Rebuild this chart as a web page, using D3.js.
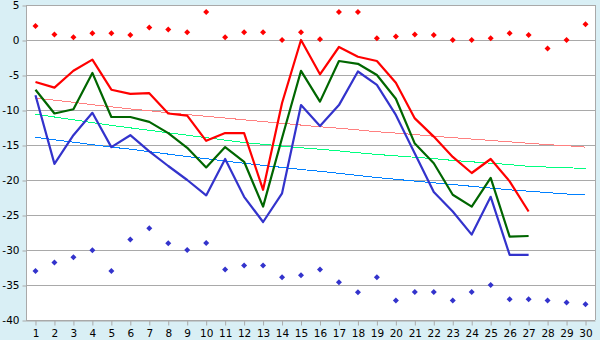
<!DOCTYPE html>
<html>
<head>
<meta charset="utf-8">
<script src="https://cdn.jsdelivr.net/npm/d3@7"></script>
<style>
  html, body { margin: 0; padding: 0; background: #d9eff5; }
  svg { display: block; }
  text { font-family: "DejaVu Sans", sans-serif; font-size: 10px; fill: #000; }
</style>
</head>
<body>
<svg id="chart" width="600" height="340"></svg>
<script>
// Days of the month
const days = d3.range(1, 31);
const yTicks = [5, 0, -5, -10, -15, -20, -25, -30, -35, -40];

// Daily maximum, mean and minimum temperature (days 1..27)
const tMax = [-6, -6.8, -4.4, -2.8, -7.1, -7.7, -7.6, -10.5, -10.8, -14.4, -13.3, -13.3, -21.4, -9,
  0, -4.9, -1, -2.4, -3, -6.1, -11.2, -13.8, -16.7, -19, -17, -20.2, -24.5];
const tMean = [-7.1, -10.5, -9.9, -4.7, -11, -11, -11.7, -13.3, -15.4, -18.2, -15.3, -17.4, -23.8, -14,
  -4.4, -8.8, -3, -3.4, -5, -8.4, -14.8, -17.6, -22.1, -23.8, -19.7, -28.1, -28];
const tMin = [-7.9, -17.7, -13.6, -10.4, -15.3, -13.6, -15.9, -18, -20, -22.2, -17, -22.4, -26, -21.9,
  -9.3, -12.3, -9.3, -4.5, -6.4, -10.7, -16.2, -21.7, -24.5, -27.8, -22.4, -30.7, -30.7];

// Climate normals for each day
const normMax = [-8.3, -8.6, -8.9, -9.25, -9.55, -9.85, -10.1, -10.4, -10.65, -10.9, -11.15, -11.4, -11.65, -11.9, -12.15,
  -12.4, -12.6, -12.85, -13.1, -13.3, -13.5, -13.75, -13.95, -14.15, -14.35, -14.55, -14.75, -14.95, -15.1, -15.3];
const normMean = [-10.6, -11, -11.4, -11.8, -12.2, -12.55, -12.9, -13.25, -13.6, -13.95, -14.3, -14.65, -14.9, -15.15, -15.4,
  -15.6, -15.85, -16.1, -16.35, -16.55, -16.75, -16.95, -17.2, -17.4, -17.6, -17.8, -18.05, -18.15, -18.25, -18.35];
const normMin = [-13.9, -14.25, -14.6, -14.95, -15.3, -15.6, -15.95, -16.3, -16.65, -16.95, -17.3, -17.6, -17.9, -18.2, -18.5,
  -18.75, -19.05, -19.35, -19.65, -19.9, -20.15, -20.4, -20.65, -20.9, -21.15, -21.4, -21.6, -21.8, -22, -22.15];

// Record highs and lows for each day
const recMax = [2, 0.8, 0.4, 0.95, 0.95, 0.7, 1.8, 1.5, 1.1, 4, 0.4, 1.1, 1.1, 0, 1.1,
  0.1, 4, 4, 0.25, 0.5, 0.8, 0.7, 0, 0, 0.25, 0.95, 0.7, -1.2, 0, 2.25];
const recMin = [-33, -31.8, -31.05, -30.05, -33, -28.5, -26.9, -29.05, -30, -29, -32.8, -32.2, -32.2, -33.9, -33.6,
  -32.8, -34.6, -36.05, -33.9, -37.2, -36, -36, -37.2, -36, -35, -37.05, -37.05, -37.2, -37.5, -37.75];

const svg = d3.select("#chart");
const plot = { left: 26, right: 595, top: 5, bottom: 320 };

const x = d3.scalePoint().domain(days).range([plot.left, plot.right]).padding(0.5);
const y = d3.scaleLinear().domain([-40, 5]).range([plot.bottom, plot.top]);

// plot background
svg.append("rect").attr("x", plot.left).attr("y", plot.top)
  .attr("width", plot.right - plot.left).attr("height", plot.bottom - plot.top).attr("fill", "#fff");

// horizontal grid
svg.append("g").selectAll("line").data(yTicks).join("line")
  .attr("x1", plot.left).attr("x2", plot.right)
  .attr("y1", d => y(d) + 0.5).attr("y2", d => y(d) + 0.5)
  .attr("stroke", "#a9a9a9").attr("stroke-width", 1);

// right frame
svg.append("line").attr("x1", plot.right + 0.5).attr("x2", plot.right + 0.5)
  .attr("y1", plot.top).attr("y2", plot.bottom).attr("stroke", "#a9a9a9");

// axes
const yAxis = d3.axisLeft(y).tickValues(yTicks).tickSize(4).tickPadding(3)
  .tickFormat(d => String(d));
const gy = svg.append("g").attr("transform", `translate(${plot.left + 0.5},0.5)`).call(yAxis);
const xAxis = d3.axisBottom(x).tickSize(5).tickPadding(4).tickSizeOuter(0);
const gx = svg.append("g").attr("transform", `translate(0,${plot.bottom + 0.5})`).call(xAxis);
[gx, gy].forEach(g => {
  g.selectAll("path, line").attr("stroke", "#a9a9a9");
  g.selectAll("text").style("font-family", "DejaVu Sans, sans-serif").style("font-size", "10.5px").attr("fill", "#000");
});
gy.select(".domain").attr("d", `M0,${plot.top}V${plot.bottom}`);

// line generator
const line = d3.line().x((d, i) => x(days[i])).y(d => y(d));

// climate normals
[[normMax, "#ff8080"], [normMean, "#00ff80"], [normMin, "#0080ff"]].forEach(([vals, c]) => {
  svg.append("path").datum(vals).attr("d", line)
    .attr("fill", "none").attr("stroke", c).attr("stroke-width", 1)
    .attr("shape-rendering", "crispEdges");
});

// observed temperatures
[[tMin, "#3333cc"], [tMean, "#006600"], [tMax, "#ff0000"]].forEach(([vals, c]) => {
  svg.append("path").datum(vals).attr("d", line)
    .attr("fill", "none").attr("stroke", c).attr("stroke-width", 2.2)
    .attr("stroke-linejoin", "round");
});

// records
const marker = "M0,-3L3,0L0,3L-3,0Z";
[[recMax, "#ff0000"], [recMin, "#3333cc"]].forEach(([vals, c]) => {
  svg.append("g").selectAll("path").data(vals).join("path")
    .attr("d", marker)
    .attr("transform", (d, i) => `translate(${x(days[i])},${y(d)})`)
    .attr("fill", c);
});
</script>
</body>
</html>
